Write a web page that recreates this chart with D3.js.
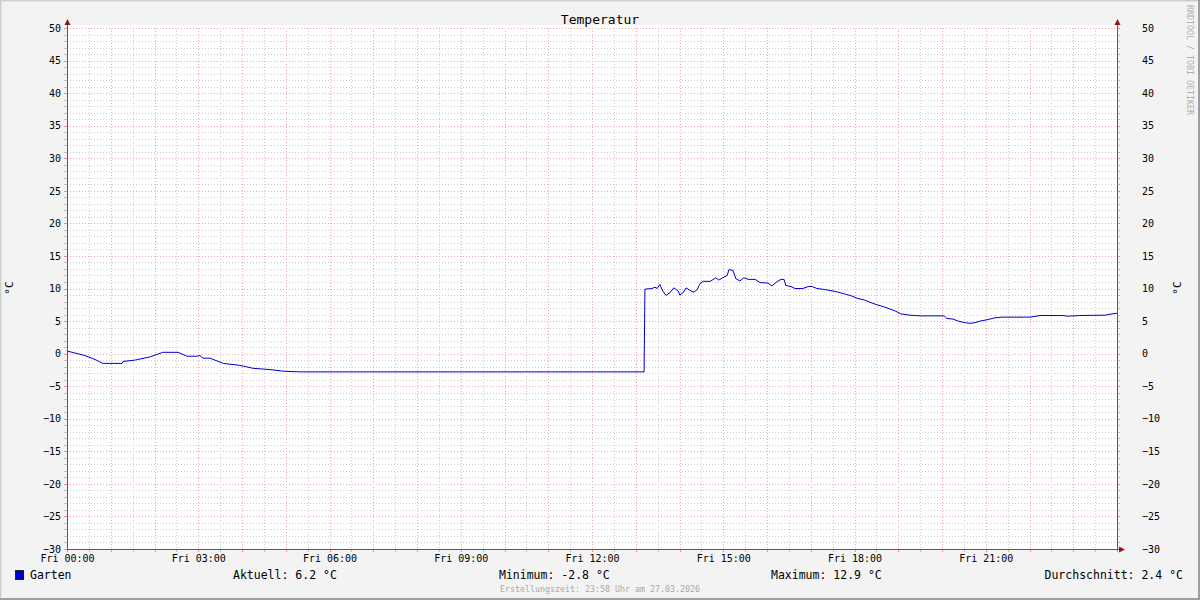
<!DOCTYPE html>
<html><head><meta charset="utf-8">
<script src="https://cdn.jsdelivr.net/npm/d3@7"></script>
<style>
html,body{margin:0;padding:0;background:#f3f3f3;}
svg{display:block;}
text{font-family:"DejaVu Sans Mono",monospace;}
</style></head><body>
<script>
// ---- data (hours since Fri 00:00, temperature in °C) ----
const hours = [0.00,0.18,0.41,0.64,0.82,1.26,1.28,1.55,1.90,2.19,2.54,2.74,2.97,3.04,3.11,3.27,3.57,3.95,4.25,4.64,4.94,5.33,
  13.19,13.21,13.37,13.44,13.49,13.55,13.62,13.69,13.78,13.87,13.97,14.01,14.08,14.15,14.24,14.33,14.40,14.47,14.54,14.70,
  14.83,14.90,14.99,15.09,15.13,15.22,15.29,15.38,15.47,15.57,15.73,15.84,16.02,16.11,16.23,16.32,16.39,16.43,16.55,16.64,
  16.82,16.94,17.03,17.14,17.26,17.44,17.62,17.78,17.94,18.06,18.22,18.35,18.49,18.67,18.81,18.93,19.06,19.27,19.50,20.05,
  20.11,20.25,20.37,20.53,20.64,20.75,20.87,21.03,21.21,21.39,22.01,22.24,22.77,22.86,23.15,23.73,23.84,24.00];
const temps = [0.4,0.1,-0.3,-0.9,-1.5,-1.5,-1.2,-1.0,-0.5,0.2,0.2,-0.4,-0.4,-0.3,-0.7,-0.7,-1.5,-1.8,-2.25,-2.45,-2.7,-2.8,
  -2.8,9.9,10.0,10.2,10.0,10.6,9.6,8.95,9.35,10.1,9.6,9.0,9.35,10.1,9.7,9.45,9.8,10.75,11.1,11.1,
  11.65,11.3,11.65,12.0,12.9,12.8,11.5,11.15,11.65,11.4,11.4,10.9,10.85,10.4,11.05,11.4,11.4,10.45,10.3,10.0,
  10.0,10.3,10.3,10.0,9.9,9.7,9.45,9.15,8.85,8.5,8.25,7.9,7.55,7.2,6.85,6.55,6.1,5.9,5.8,5.8,
  5.4,5.3,5.0,4.75,4.65,4.75,5.0,5.2,5.5,5.6,5.6,5.85,5.85,5.75,5.85,5.9,6.05,6.2];
const xTickHours = [0,3,6,9,12,15,18,21];
const xTickLabels = ["Fri 00:00","Fri 03:00","Fri 06:00","Fri 09:00","Fri 12:00","Fri 15:00","Fri 18:00","Fri 21:00"];
const yTicks = [-30,-25,-20,-15,-10,-5,0,5,10,15,20,25,30,35,40,45,50];
const seriesName = "Garten";
const legendItems = ["Aktuell: 6.2 °C","Minimum: -2.8 °C","Maximum: 12.9 °C","Durchschnitt: 2.4 °C"];
const title = "Temperatur";
const unit = "°C";
const footer = "Erstellungszeit: 23:58 Uhr am 27.03.2026";
const watermark = "RRDTOOL / TOBI OETIKER";

// ---- layout ----
const W = 1200, H = 600;
const L = 67, R = 1117, T = 28, B = 549;
const svg = d3.select("body").append("svg").attr("width", W).attr("height", H);

svg.append("rect").attr("width", W).attr("height", H).attr("fill", "#f3f3f3");
// 3D frame
svg.append("path").attr("d", `M0.5,${H} L0.5,0.5 L${W},0.5`).attr("stroke", "#cfcfcf").attr("stroke-width", 2).attr("fill", "none");
svg.append("path").attr("d", `M0,${H-1} L${W-1},${H-1} L${W-1},0`).attr("stroke", "#9e9e9e").attr("stroke-width", 2).attr("fill", "none");

const x = d3.scaleLinear().domain([0, 24]).range([L, R]);
const y = d3.scaleLinear().domain([-30, 50]).range([B, T]);

svg.append("rect").attr("x", L).attr("y", T - 3).attr("width", R - L).attr("height", B - T + 3).attr("fill", "#ffffff");

// grid
const minorX = d3.range(0, 24.001, 0.5).filter(h => h % 1 !== 0);
const majorX = d3.range(0, 24.001, 1);
const minorY = d3.range(-30, 50.001, 1).filter(v => v % 5 !== 0);
const majorY = yTicks;
const grid = svg.append("g");
const gridGrey = "#cdcdcd", gridRed = "#eca8a8";
const px = v => Math.round(v) + 0.5;
grid.selectAll(".mnx").data(minorX).join("line")
  .attr("x1", d => px(x(d))).attr("x2", d => px(x(d)))
  .attr("y1", T).attr("y2", B).attr("stroke", gridGrey).attr("stroke-dasharray", "1,2");
grid.selectAll(".mny").data(minorY).join("line")
  .attr("y1", d => px(y(d))).attr("y2", d => px(y(d)))
  .attr("x1", L).attr("x2", R).attr("stroke", gridGrey).attr("stroke-dasharray", "1,2");
grid.selectAll(".mjx").data(majorX).join("line")
  .attr("x1", d => px(x(d))).attr("x2", d => px(x(d)))
  .attr("y1", T).attr("y2", B).attr("stroke", gridRed).attr("stroke-dasharray", "1,2");
grid.selectAll(".mjy").data(majorY).join("line")
  .attr("y1", d => px(y(d))).attr("y2", d => px(y(d)))
  .attr("x1", L).attr("x2", R).attr("stroke", gridRed).attr("stroke-dasharray", "1,2");

// tick marks
const tk = svg.append("g").attr("shape-rendering", "crispEdges");
tk.selectAll(".tbx").data(d3.range(0, 24.001, 0.5)).join("line")
  .attr("x1", d => px(x(d))).attr("x2", d => px(x(d)))
  .attr("y1", B).attr("y2", B + 3).attr("stroke", d => d % 1 === 0 ? "#e89090" : "#c0c0c0");
[L - 3, R].forEach(xx => {
  tk.selectAll(null).data(d3.range(-30, 50.001, 1)).join("line")
    .attr("y1", d => px(y(d))).attr("y2", d => px(y(d)))
    .attr("x1", xx).attr("x2", xx + 3).attr("stroke", d => d % 5 === 0 ? "#e89090" : "#c0c0c0");
});

// data line
const line = d3.line().x((d, i) => x(hours[i])).y(d => y(d));
svg.append("path").datum(temps).attr("d", line).attr("fill", "none")
  .attr("stroke", "#0000cc").attr("stroke-width", 1);

// axes lines + arrows
const ax = svg.append("g").attr("shape-rendering", "crispEdges");
ax.append("line").attr("x1", L + 0.5).attr("x2", L + 0.5).attr("y1", T - 4).attr("y2", B + 1).attr("stroke", "#5a5a5a");
ax.append("line").attr("x1", R + 0.5).attr("x2", R + 0.5).attr("y1", T - 4).attr("y2", B + 1).attr("stroke", "#5a5a5a");
ax.append("line").attr("x1", L).attr("x2", R + 4).attr("y1", B + 0.5).attr("y2", B + 0.5).attr("stroke", "#5a5a5a");
const arrowC = "#8b1a1a";
svg.append("path").attr("d", `M${L - 2.5},${T - 3} L${L + 3.5},${T - 3} L${L + 0.5},${T - 9} Z`).attr("fill", arrowC);
svg.append("path").attr("d", `M${R - 2.5},${T - 3} L${R + 3.5},${T - 3} L${R + 0.5},${T - 9} Z`).attr("fill", arrowC);
svg.append("path").attr("d", `M${R + 2},${B - 2.5} L${R + 2},${B + 3.5} L${R + 8},${B + 0.5} Z`).attr("fill", arrowC);

// axis labels via d3 axes
const axB = svg.append("g").attr("transform", `translate(0,${B})`)
  .call(d3.axisBottom(x).tickValues(xTickHours).tickSize(0).tickPadding(6)
    .tickFormat(d => xTickLabels[xTickHours.indexOf(d)]));
const axL = svg.append("g").attr("transform", `translate(${L},0)`)
  .call(d3.axisLeft(y).tickValues(yTicks).tickSize(0).tickPadding(6).tickFormat(d3.format("d")));
const axR = svg.append("g").attr("transform", `translate(${R},0)`)
  .call(d3.axisRight(y).tickValues(yTicks).tickSize(0).tickPadding(25).tickFormat(d3.format("d")));
[axB, axL, axR].forEach(g => {
  g.select(".domain").remove();
  g.selectAll("text").attr("font-family", "DejaVu Sans Mono").attr("font-size", 10).attr("fill", "#000");
});

// title and units
svg.append("text").attr("x", 600).attr("y", 24).attr("text-anchor", "middle")
  .attr("font-size", 13).attr("fill", "#000").text(title);
svg.append("text").attr("transform", `translate(13,288) rotate(-90)`).attr("text-anchor", "middle")
  .attr("font-size", 11).attr("fill", "#000").text(unit);
svg.append("text").attr("transform", `translate(1181,288) rotate(-90)`).attr("text-anchor", "middle")
  .attr("font-size", 11).attr("fill", "#000").text(unit);
svg.append("text").attr("transform", `translate(1187,5) rotate(90)`).attr("text-anchor", "start")
  .attr("font-size", 8.3).attr("fill", "#b0b0b0").text(watermark);

// legend
svg.append("rect").attr("x", 15.5).attr("y", 570.5).attr("width", 8).attr("height", 9)
  .attr("fill", "#0000cc").attr("stroke", "#222").attr("stroke-width", 1);
svg.append("text").attr("x", 30).attr("y", 579).attr("font-size", 11.5).attr("fill", "#000").text(seriesName);
const legendX = [233, 499, 771, 1183];
legendItems.forEach((t, i) => {
  svg.append("text").attr("x", legendX[i]).attr("y", 579)
    .attr("text-anchor", i === 3 ? "end" : "start")
    .attr("font-size", 11.5).attr("fill", "#000").text(t);
});
svg.append("text").attr("x", 600).attr("y", 592).attr("text-anchor", "middle")
  .attr("font-size", 8.3).attr("fill", "#a8a8a8").text(footer);
</script>
</body></html>
